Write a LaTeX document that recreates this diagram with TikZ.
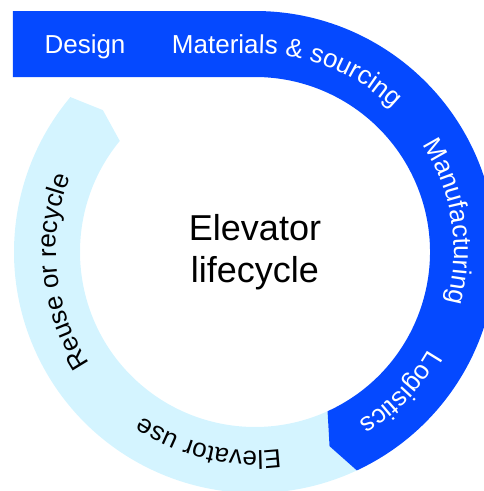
\documentclass[tikz,border=0pt]{standalone}
\usepackage{fontspec}
\setmainfont{Liberation Sans}
\usetikzlibrary{decorations.text}
\definecolor{stageblue}{HTML}{0549FF}
\definecolor{stagesky}{HTML}{D4F4FF}

\begin{document}
\begin{tikzpicture}[x=1pt, y=1pt]
% Parameters
\def\rin{175}
\def\rout{241}
\def\rmid{208}
\def\rbase{199}
\useasboundingbox (-255,-239) rectangle (229,252);

% === Light segment ===
\fill[stagesky] (-65:\rout) arc[start angle=-65, end angle=-220, radius=\rout]
  -- (-223:\rmid) -- (-219.4:\rin) arc[start angle=-219.4, end angle=-65.5, radius=\rin]
  -- (-69:\rmid) -- cycle;

% === Dark segment ===
\fill[stageblue] (-242,\rout) -- (0,\rout) arc[start angle=90, end angle=-65, radius=\rout]
  -- (-69:\rmid) -- (-65.5:\rin) arc[start angle=-65.5, end angle=90, radius=\rin]
  -- (-242,\rin) -- cycle;

% === Labels ===
\node[text=white, font=\fontsize{26}{31}\selectfont, anchor=base]
  (design) at (-170,\rbase) {Design};
\node[align=center, font=\fontsize{36}{42}\selectfont]
  (title) at (0,0) {Elevator\\lifecycle};

\path[decorate, decoration={text along path,
  text={|\color{white}\fontsize{26}{31}\selectfont|Materials {\&} sourcing}}]
  (-83,\rbase) -- (0,\rbase) arc[start angle=90, end angle=20, radius=\rbase];

\foreach \mid/\lbl/\col in {9/Manufacturing/white, -44/Logistics/white,
  -103.5/Elevator use/black, -174/Reuse or recycle/black}{
  \path[decorate, decoration={text along path, text align=center,
    text/.expanded={|\noexpand\color{\col}\noexpand\fontsize{26}{31}\noexpand\selectfont|\lbl}}]
    (\mid+40:\rbase) arc[start angle=\mid+40, end angle=\mid-40, radius=\rbase];
}
\end{tikzpicture}
\end{document}
